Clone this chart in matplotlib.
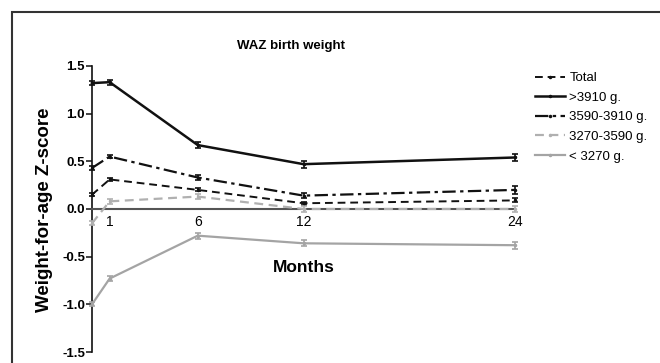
import matplotlib
matplotlib.use("Agg")
import matplotlib.pyplot as plt
from matplotlib.patches import Rectangle

plt.rcParams['font.family'] = ['Liberation Sans', 'DejaVu Sans']

months = [0, 1, 6, 12, 24]
tick_months = [1, 6, 12, 24]

total = [0.15, 0.31, 0.20, 0.06, 0.09]
total_err = [0.015, 0.015, 0.015, 0.015, 0.02]
above_3910 = [1.32, 1.33, 0.67, 0.47, 0.54]
above_3910_err = [0.02, 0.025, 0.03, 0.035, 0.04]
w3590_3910 = [0.43, 0.55, 0.33, 0.14, 0.20]
w3590_3910_err = [0.02, 0.02, 0.025, 0.03, 0.04]
w3270_3590 = [-0.15, 0.08, 0.13, 0.0, 0.0]
w3270_3590_err = [0.02, 0.025, 0.03, 0.03, 0.03]
below_3270 = [-1.0, -0.73, -0.28, -0.36, -0.38]
below_3270_err = [0.02, 0.025, 0.03, 0.03, 0.035]

series = [
    ('Total', total, total_err, '#111111', (0, (4, 2.5)), 1.4),
    ('>3910 g.', above_3910, above_3910_err, '#111111', '-', 1.8),
    ('3590-3910 g.', w3590_3910, w3590_3910_err, '#111111', (0, (6, 2, 1.5, 2)), 1.6),
    ('3270-3590 g.', w3270_3590, w3270_3590_err, '#b0b0b0', (0, (4, 2.5)), 1.6),
    ('< 3270 g.', below_3270, below_3270_err, '#a4a4a4', '-', 1.6),
]

fig = plt.figure(figsize=(6.6, 3.63), dpi=100)
ax = fig.add_axes([0.1394, 0.0303, 0.641, 0.788])

handles = []
for label, vals, err, color, ls, lw in series:
    h = ax.errorbar(months, vals, yerr=err, color=color, linestyle=ls, linewidth=lw,
                    marker='.', markersize=3, elinewidth=1.2, capsize=2.5, capthick=1.2,
                    label=label, clip_on=False, zorder=3)
    for art in h.lines[1] + h.lines[2]:
        art.set_clip_on(False)
    h.lines[0].set_clip_on(False)
    # legend shows only the line itself
    handles.append(h.lines[0])

ax.set_xlim(0, 24)
ax.set_ylim(-1.5, 1.5)
ax.set_yticks([-1.5, -1.0, -0.5, 0.0, 0.5, 1.0, 1.5])
ax.set_yticklabels(['-1.5', '-1.0', '-0.5', '0.0', '0.5', '1.0', '1.5'],
                   fontsize=9.5, fontweight='bold')
ax.set_xticks(tick_months)
ax.set_xticklabels([str(m) for m in tick_months], fontsize=9.5, fontweight='bold')

ax.spines['top'].set_visible(False)
ax.spines['right'].set_visible(False)
ax.spines['bottom'].set_position(('data', 0))
ax.spines['bottom'].set_color('#555555')
ax.spines['bottom'].set_linewidth(1.5)
ax.spines['left'].set_color('#111111')
ax.spines['left'].set_linewidth(1.2)
ax.tick_params(axis='y', length=4, width=1.1, pad=1, color='#111111')
ax.tick_params(axis='x', length=0, pad=4)

fig.text(0.1394 + 0.641 / 2, 1 - 268 / 363, 'Months', ha='center', va='center',
         fontsize=12.5, fontweight='bold')
fig.text(45 / 660, 1 - 210 / 363, 'Weight-for-age Z-score', rotation=90,
         ha='center', va='center', fontsize=13.5, fontweight='bold')
fig.text(291 / 660, 1 - 46 / 363, 'WAZ birth weight', ha='center', va='center',
         fontsize=9.5, fontweight='bold')

fig.legend(handles=handles, labels=[s[0] for s in series], loc='upper left',
           bbox_to_anchor=(535 / 660, 1 - 72 / 363),
           frameon=False, fontsize=9.5, handlelength=2.3, handletextpad=0.3,
           labelspacing=0.56, borderpad=0, borderaxespad=0)

# outer frame, open to the right and bottom
fig.patches.append(Rectangle((12 / 660, -0.1), 1.2, 1 - 12 / 363 + 0.1,
                             transform=fig.transFigure, fill=False,
                             edgecolor='#333333', linewidth=1.5))

fig.savefig('out.png', dpi=100)
